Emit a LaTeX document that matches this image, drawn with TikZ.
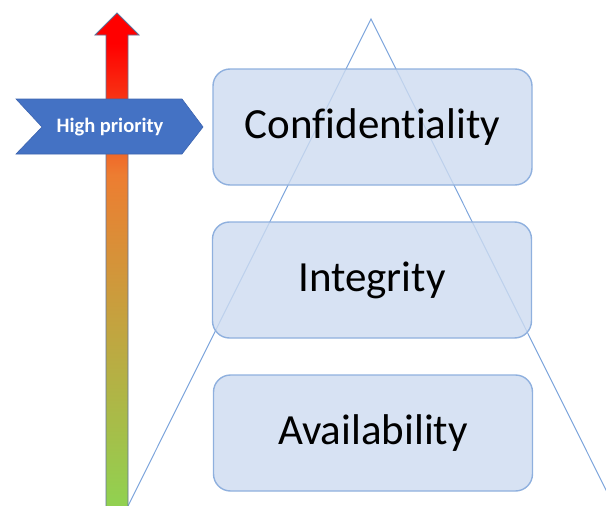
\documentclass[tikz,border=0pt]{standalone}
\usepackage{fontspec}
\setmainfont{Carlito}[Ligatures={NoCommon}]
\definecolor{boxfill}{RGB}{205,219,240}
\definecolor{boxline}{RGB}{143,176,222}
\definecolor{triline}{RGB}{125,165,220}
\definecolor{chevfill}{RGB}{68,114,196}
\definecolor{chevline}{RGB}{60,100,175}
\definecolor{arrline}{RGB}{95,115,155}
\definecolor{pgreen}{RGB}{146,208,80}
\definecolor{porange}{RGB}{237,125,49}
\definecolor{pred}{RGB}{255,0,0}
\pgfdeclareverticalshading{prio}{100bp}{color(0bp)=(pgreen); color(27bp)=(pgreen); color(59bp)=(porange); color(72bp)=(pred); color(100bp)=(pred)}
\tikzset{
  level/.style={draw=boxline, line width=1.4pt, fill=boxfill, fill opacity=0.8, text opacity=1,
    rounded corners=17pt, minimum width=319pt, minimum height=116pt, inner sep=0pt,
    font=\fontsize{43}{50}\selectfont, text=black},
  triedge/.style={draw=triline, line width=1pt},
  chevtext/.style={font=\bfseries\fontsize{20.5}{24}\selectfont, text=white, inner sep=0pt}
}
\begin{document}
\begin{tikzpicture}[x=1pt,y=-1pt]
\useasboundingbox (0,0) rectangle (606,506);
\begin{scope}
\clip (0,0) rectangle (606,506);
% triangle
\coordinate (apex) at (371,19);
\coordinate (footL) at (124,514);
\coordinate (footR) at (618,514);
\draw[triedge] (footL) -- (apex) -- (footR);
% priority arrow
\shade[shading=prio, draw=arrline, line width=0.8pt]
  (117,13) -- (139,35) -- (128,35) -- (128,520) -- (106,520) -- (106,35) -- (95,35) -- cycle;
\end{scope}
% chevron
\draw[fill=chevfill, draw=chevline, line width=0.6pt]
  (16,99) -- (182,99) -- (203,127) -- (182,154) -- (16,154) -- (42,127) -- cycle;
\node[chevtext] (hp) at (110,127) {High priority};
% levels
\node[level] (conf) at (372.5,127) {Confidentiality};
\node[level] (integ) at (372,280) {Integrity};
\node[level] (avail) at (373,433) {Availability};
\end{tikzpicture}
\end{document}
